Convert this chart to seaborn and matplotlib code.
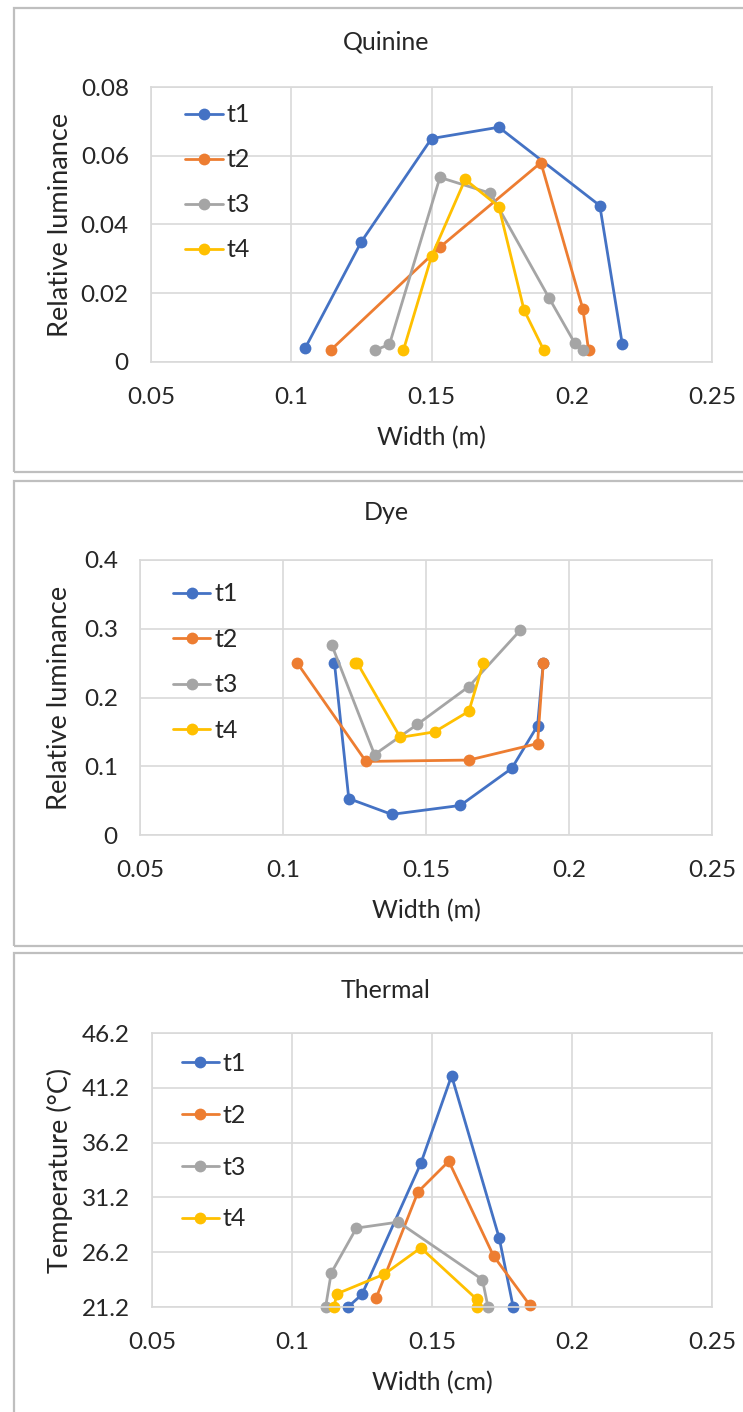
import matplotlib
matplotlib.use("Agg")
import matplotlib.pyplot as plt
import seaborn as sns
import pandas as pd
from matplotlib.patches import Rectangle

# ---- data ----
series = ["t1", "t2", "t3", "t4"]
colors = ["#4472C4", "#ED7D31", "#A5A5A5", "#FFC000"]

x_ticks = [0.05, 0.1, 0.15, 0.2, 0.25]

# Quinine
quinine_t1_x = [0.105, 0.125, 0.150, 0.174, 0.210, 0.218]
quinine_t1_y = [0.0041, 0.0350, 0.0650, 0.0683, 0.0455, 0.0053]
quinine_t2_x = [0.114, 0.153, 0.189, 0.204, 0.206]
quinine_t2_y = [0.0034, 0.0334, 0.0580, 0.0153, 0.0034]
quinine_t3_x = [0.130, 0.135, 0.153, 0.171, 0.192, 0.201, 0.204]
quinine_t3_y = [0.0035, 0.0051, 0.0537, 0.0491, 0.0185, 0.0056, 0.0034]
quinine_t4_x = [0.140, 0.150, 0.162, 0.174, 0.183, 0.190]
quinine_t4_y = [0.0035, 0.0307, 0.0531, 0.0452, 0.0151, 0.0035]
quinine_y_ticks = [0, 0.02, 0.04, 0.06, 0.08]

# Dye
dye_t1_x = [0.118, 0.123, 0.138, 0.162, 0.180, 0.189, 0.191]
dye_t1_y = [0.250, 0.053, 0.030, 0.043, 0.097, 0.159, 0.250]
dye_t2_x = [0.105, 0.129, 0.165, 0.189, 0.191]
dye_t2_y = [0.250, 0.107, 0.109, 0.133, 0.250]
dye_t3_x = [0.117, 0.132, 0.147, 0.165, 0.183]
dye_t3_y = [0.277, 0.117, 0.161, 0.216, 0.298]
dye_t4_x = [0.125, 0.126, 0.141, 0.153, 0.165, 0.170]
dye_t4_y = [0.250, 0.250, 0.142, 0.150, 0.180, 0.250]
dye_y_ticks = [0, 0.1, 0.2, 0.3, 0.4]

# Thermal
thermal_t1_x = [0.120, 0.125, 0.146, 0.157, 0.174, 0.179]
thermal_t1_y = [21.2, 22.35, 34.3, 42.3, 27.5, 21.2]
thermal_t2_x = [0.130, 0.145, 0.156, 0.172, 0.185]
thermal_t2_y = [21.99, 31.7, 34.5, 25.85, 21.35]
thermal_t3_x = [0.112, 0.114, 0.123, 0.138, 0.168, 0.170]
thermal_t3_y = [21.2, 24.3, 28.4, 28.95, 23.7, 21.2]
thermal_t4_x = [0.115, 0.116, 0.133, 0.146, 0.166, 0.166]
thermal_t4_y = [21.2, 22.4, 24.2, 26.6, 21.9, 21.2]
thermal_y_ticks = [21.2, 26.2, 31.2, 36.2, 41.2, 46.2]

W, H = 743, 1412
TEXT = "#262626"
GRID = "#D9D9D9"

sns.set_theme(style="white")
plt.rcParams["font.family"] = ["Lato", "DejaVu Sans"]


def frame(xs, ys):
    parts = [pd.DataFrame({"x": x, "y": y, "series": s}) for s, x, y in zip(series, xs, ys)]
    return pd.concat(parts, ignore_index=True)


def px_axes(fig, left, right, top, bottom):
    return fig.add_axes([left / W, 1 - bottom / H, (right - left) / W, (bottom - top) / H])


def draw(ax, df, title, xlabel, ylabel, y_ticks, title_y, legend_anchor, spacing):
    sns.lineplot(data=df, x="x", y="y", hue="series", palette=colors,
                 estimator=None, sort=False, marker="o", markersize=8.5,
                 markeredgewidth=0, linewidth=2.0, ax=ax)
    for ln in ax.lines:
        ln.set_clip_on(False)
    ax.set_xlim(x_ticks[0], x_ticks[-1])
    ax.set_ylim(y_ticks[0], y_ticks[-1])
    ax.set_xticks(x_ticks)
    ax.set_xticklabels([f"{v:g}" for v in x_ticks])
    ax.set_yticks(y_ticks)
    ax.set_yticklabels([f"{v:g}" for v in y_ticks])
    ax.grid(True, color=GRID, linewidth=1.2)
    ax.set_axisbelow(True)
    for sp in ax.spines.values():
        sp.set_color(GRID)
        sp.set_linewidth(1.2)
    ax.tick_params(length=0, labelsize=17.5, labelcolor=TEXT)
    ax.tick_params(axis="x", pad=18)
    ax.tick_params(axis="y", pad=16)
    ax.set_xlabel(xlabel, fontsize=18, color=TEXT, labelpad=13)
    ax.set_ylabel(ylabel, fontsize=19.5, color=TEXT, va="center")
    pos = ax.get_position()
    ax.yaxis.set_label_coords((60 - pos.x0 * W) / (pos.width * W), 0.5)
    ax.figure.text(386 / W, 1 - title_y / H, title, fontsize=18, color=TEXT,
                   ha="center", va="center")
    ax.legend(loc="upper left", bbox_to_anchor=legend_anchor, frameon=False,
              fontsize=18, handlelength=1.5, handletextpad=0.15,
              labelspacing=spacing, borderaxespad=0, labelcolor=TEXT)


fig = plt.figure(figsize=(W / 100, H / 100), dpi=100)

# chart-area borders (they run past the right edge in the reference)
for top, bottom in [(8, 472), (481, 946), (953, 1425)]:
    fig.patches.append(Rectangle((14 / W, 1 - bottom / H), 760 / W, (bottom - top) / H,
                                 transform=fig.transFigure, fill=False,
                                 edgecolor="#BFBFBF", linewidth=1.6))

ax1 = px_axes(fig, 151, 712, 87, 362)
draw(ax1, frame([quinine_t1_x, quinine_t2_x, quinine_t3_x, quinine_t4_x],
                [quinine_t1_y, quinine_t2_y, quinine_t3_y, quinine_t4_y]),
     "Quinine", "Width (m)", "Relative luminance", quinine_y_ticks, 42, (0.043, 0.977), 0.88)

ax2 = px_axes(fig, 140, 712, 560, 835)
draw(ax2, frame([dye_t1_x, dye_t2_x, dye_t3_x, dye_t4_x],
                [dye_t1_y, dye_t2_y, dye_t3_y, dye_t4_y]),
     "Dye", "Width (m)", "Relative luminance", dye_y_ticks, 513, (0.04, 0.955), 0.9)

ax3 = px_axes(fig, 152, 712, 1033, 1307)
draw(ax3, frame([thermal_t1_x, thermal_t2_x, thermal_t3_x, thermal_t4_x],
                [thermal_t1_y, thermal_t2_y, thermal_t3_y, thermal_t4_y]),
     "Thermal", "Width (cm)", "Temperature (\u00b0C)", thermal_y_ticks, 990, (0.035, 0.967), 1.15)

fig.savefig("out.png", dpi=100)
